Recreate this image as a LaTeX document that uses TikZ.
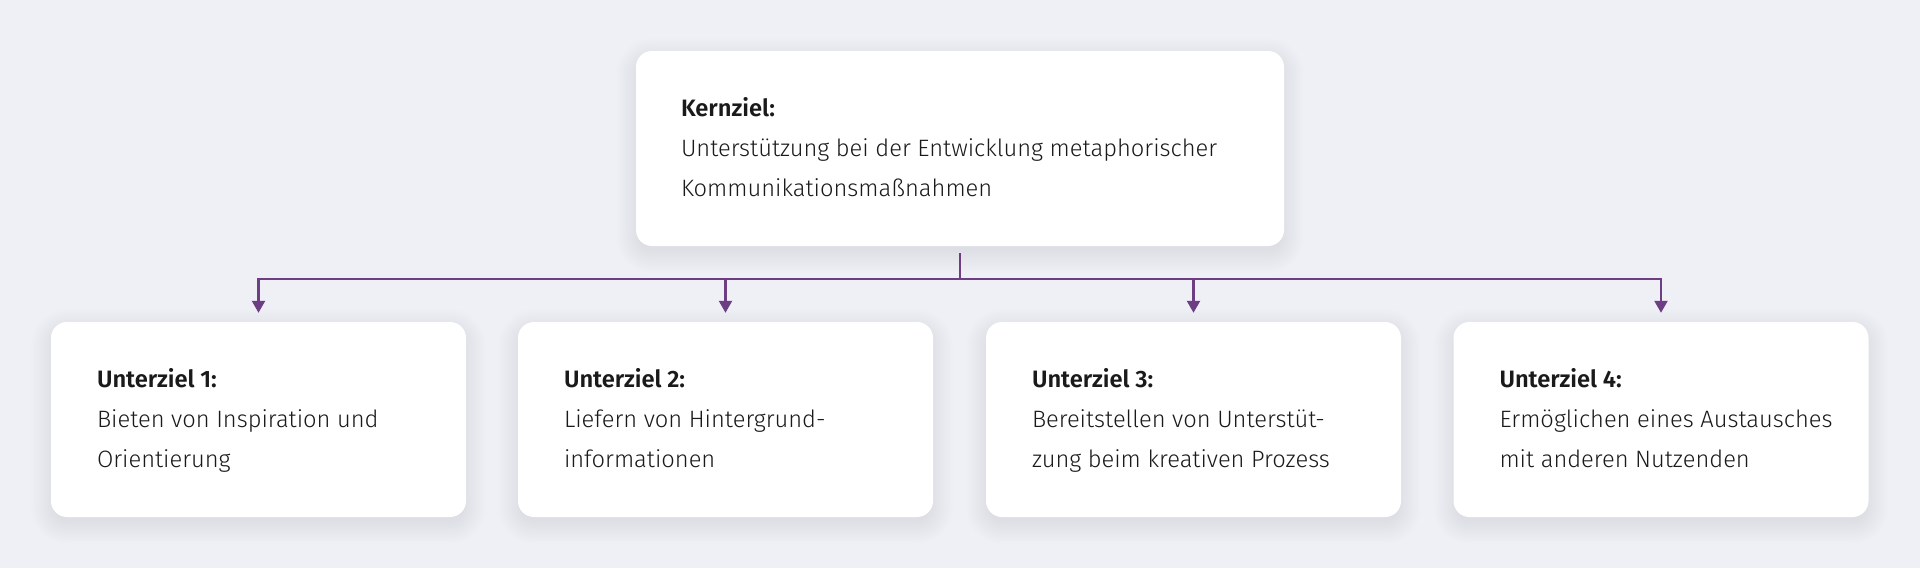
\documentclass[tikz,border=0pt]{standalone}
\usepackage{fontspec}
\setmainfont{Fira Sans Light}[BoldFont={Fira Sans SemiBold}]
\usetikzlibrary{arrows.meta,backgrounds}
\definecolor{bg}{HTML}{EEF0F6}
\definecolor{lilac}{HTML}{6E3E85}
\definecolor{ink}{HTML}{1A1A1A}
\tikzset{
  goalbox/.style={rectangle, rounded corners=16pt, fill=white, draw=none,
    minimum height=195pt, inner sep=0pt},
  goaltext/.style={anchor=west, inner sep=0pt, align=left, text=ink,
    font=\fontsize{23.7}{40}\selectfont},
  link/.style={draw=lilac, line width=2.3pt},
  linkarrow/.style={link, -{Triangle[width=13pt,length=12pt]}}
}
\begin{document}
\begin{tikzpicture}[x=1pt,y=-1pt]
\useasboundingbox (0,0) rectangle (1920,568);
\node[goalbox, minimum width=648pt] (top) at (960,148.5) {};
\node[goalbox, minimum width=415pt] (b1) at (258.5,419.5) {};
\node[goalbox, minimum width=415pt] (b2) at (725.5,419.5) {};
\node[goalbox, minimum width=415pt] (b3) at (1193.5,419.5) {};
\node[goalbox, minimum width=415pt] (b4) at (1661,419.5) {};
\begin{scope}[on background layer]
  \fill[bg] (0,0) rectangle (1920,568);
  \foreach \n in {top,b1,b2,b3,b4}{
    \foreach \i in {-2,...,14}{
      \fill[black, opacity=0.0055, rounded corners={(16+1.4*\i)*1pt}]
        ([xshift={-1.4*\i*1pt}, yshift={(-7+1.4*\i)*1pt}]\n.north west) rectangle
        ([xshift={1.4*\i*1pt}, yshift={(-7-1.4*\i)*1pt}]\n.south east);
    }
  }
\end{scope}
\node[goaltext] (ttop) at ([xshift=45pt]top.west) {\strut\textbf{Kernziel:}\\Unterstützung bei der Entwicklung metaphorischer\\Kommunikationsmaßnahmen\strut};
\node[goaltext] (t1) at ([xshift=46pt]b1.west) {\strut\textbf{Unterziel 1:}\\Bieten von Inspiration und\\Orientierung\strut};
\node[goaltext] (t2) at ([xshift=46pt]b2.west) {\strut\textbf{Unterziel 2:}\\Liefern von Hintergrund-\\informationen\strut};
\node[goaltext] (t3) at ([xshift=46pt]b3.west) {\strut\textbf{Unterziel 3:}\\Bereitstellen von Unterstüt-\\zung beim kreativen Prozess\strut};
\node[goaltext] (t4) at ([xshift=46pt]b4.west) {\strut\textbf{Unterziel 4:}\\Ermöglichen eines Austausches\\mit anderen Nutzenden\strut};
\coordinate (j) at (960,279);
\draw[link] ([yshift=-7pt]top.south) -- (j);
\foreach \b in {b1,b2,b3,b4}{
  \draw[linkarrow] (j) -| ([yshift=9pt]\b.north);
}
\end{tikzpicture}
\end{document}
